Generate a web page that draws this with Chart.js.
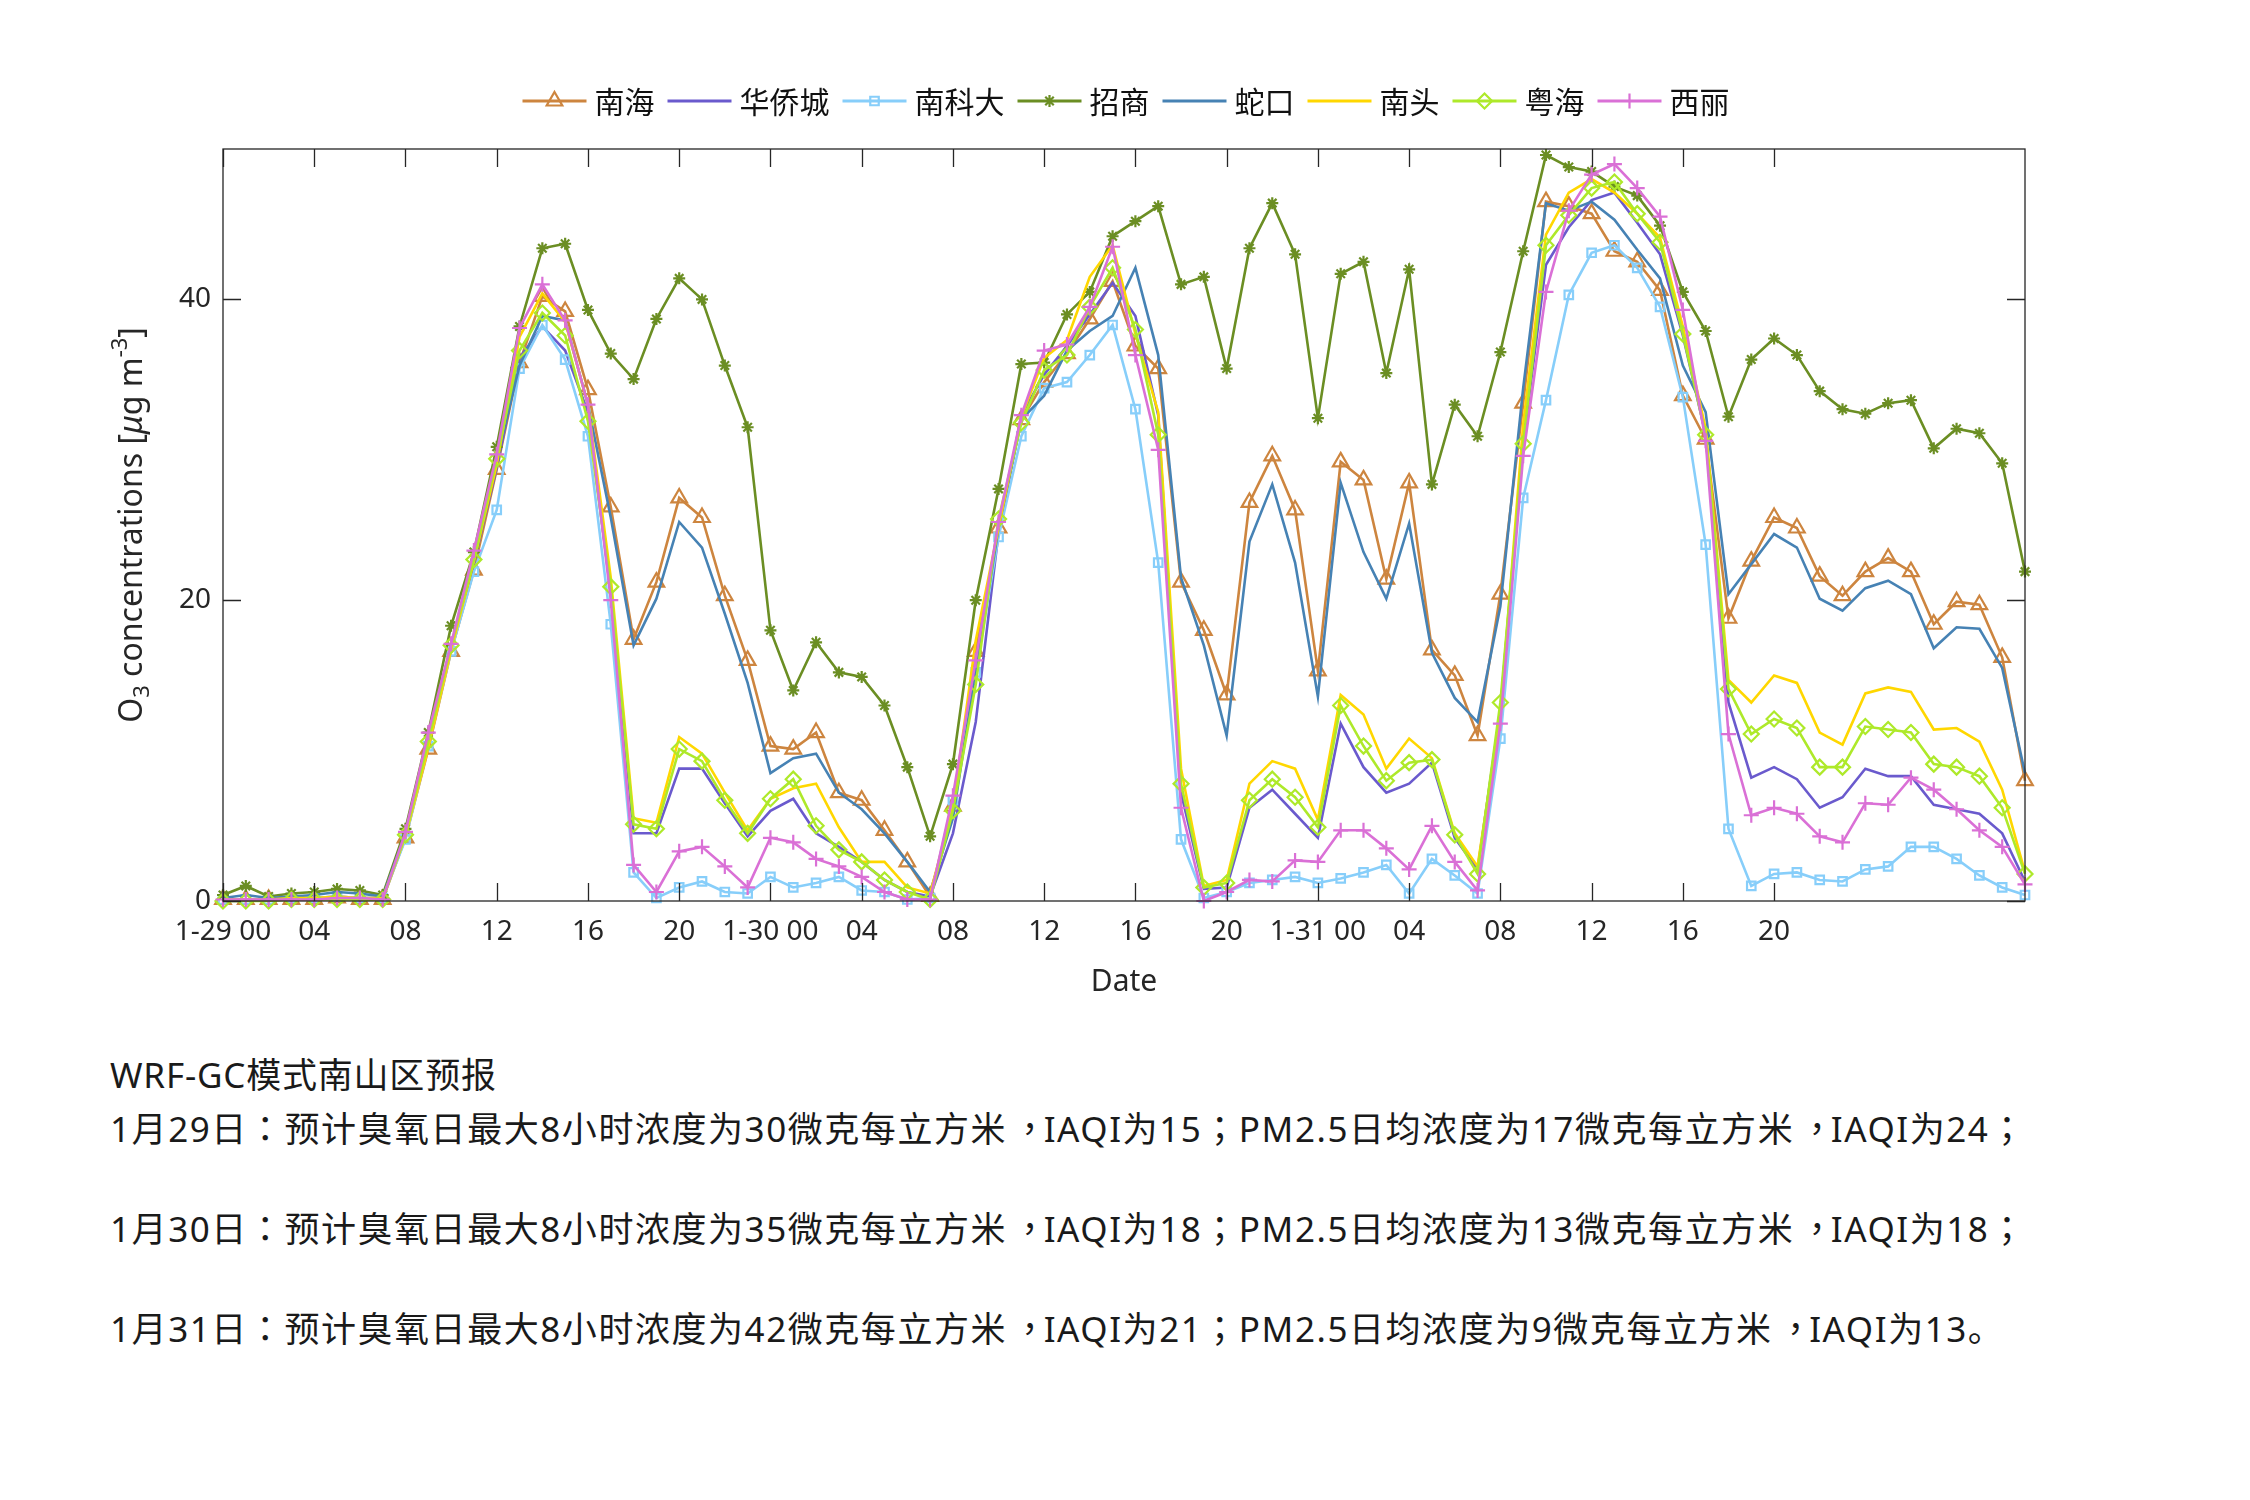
<!DOCTYPE html>
<html>
<head>
<meta charset="utf-8">
<script src="https://cdn.jsdelivr.net/npm/chart.js@4.4.1/dist/chart.umd.min.js"></script>
<style>
  html, body { margin: 0; padding: 0; background: #fff; }
  body { width: 2250px; height: 1500px; position: relative; overflow: hidden; }
  #wrap { position: absolute; left: 0; top: 0; width: 2250px; height: 1000px; }
  .note { position: absolute; left: 110px; font-family: "Noto Sans", "Noto Sans CJK SC", sans-serif;
          font-size: 35px; line-height: 1; color: #1a1a1a; white-space: nowrap; letter-spacing: 2px; }
  .note .p { font-family: "Noto Sans CJK TC", sans-serif; }
  .note .c { display: inline-block; transform: translateX(0.15em); }
</style>
</head>
<body>
<div id="wrap"><canvas id="c" width="2250" height="1000"></canvas></div>
<div class="note" id="n0" style="top:1057px;letter-spacing:0.8px">WRF-GC模式南山区预报</div>
<div class="note" id="n1" style="top:1109px">1月29日<span class="p">：</span>预计臭氧日最大8小时浓度为30微克每立方米<span class="p c">，</span>IAQI为15<span class="p">；</span>PM2.5日均浓度为17微克每立方米<span class="p c">，</span>IAQI为24<span class="p">；</span></div>
<div class="note" id="n2" style="top:1209px">1月30日<span class="p">：</span>预计臭氧日最大8小时浓度为35微克每立方米<span class="p c">，</span>IAQI为18<span class="p">；</span>PM2.5日均浓度为13微克每立方米<span class="p c">，</span>IAQI为18<span class="p">；</span></div>
<div class="note" id="n3" style="top:1309px">1月31日<span class="p">：</span>预计臭氧日最大8小时浓度为42微克每立方米<span class="p c">，</span>IAQI为21<span class="p">；</span>PM2.5日均浓度为9微克每立方米<span class="p c">，</span>IAQI为13。</div>
<script>
// hours since 1-29 00
const hours = [0,1,2,3,4,5,6,7,8,9,10,11,12,13,14,15,16,17,18,19,20,21,22,23,
  24,25,26,27,28,29,30,31,32,33,34,35,36,37,38,39,40,41,42,43,44,45,46,47,
  48,49,50,51,52,53,54,55,56,57,58,59,60,61,62,63,64,65,66,67,68,69,70,71,
  72,73,74,75,76,77,78,79];
const xTickValues = [0,4,8,12,16,20,24,28,32,36,40,44,48,52,56,60,64,68];
const xTickLabels = ['1-29 00','04','08','12','16','20','1-30 00','04','08','12','16','20',
  '1-31 00','04','08','12','16','20'];
const yTickValues = [0, 20, 40];

const stations = ['南海','华侨城','南科大','招商','蛇口','南头','粤海','西丽'];

const nanhai = [0.1,0.1,0.1,0.1,0.1,0.2,0.1,0.1, 4.2,10.1,16.6,22.0,28.7,35.8,40.2,39.2,
  34.0,26.2,17.4,21.2,26.8,25.5,20.3,16.0, 10.3,10.1,11.2,7.2,6.7,4.7,2.6,0.3,
  6.3,16.6,24.8,32.0,34.5,36.4,38.7,41.2, 36.9,35.4,21.2,18.0,13.7,26.5,29.6,26.0,
  15.3,29.2,28.0,21.4,27.8,16.7,15.0,11.0, 20.4,33.1,46.5,46.2,45.7,43.2,42.5,40.6,
  33.6,30.7,18.8,22.6,25.5,24.8,21.6,20.3, 21.9,22.8,21.9,18.4,19.9,19.7,16.2,8.0];
const huaqiaocheng = [0.1,0.1,0.1,0.2,0.2,0.3,0.2,0.2, 4.5,10.5,17.0,22.5,28.8,36.1,38.2,36.6,
  32.5,20.5,4.5,4.5,8.8,8.8,6.5,4.3, 6.0,6.8,4.5,3.6,2.6,1.4,0.6,0.3,
  4.5,11.9,24.5,32.3,35.0,36.9,39.0,41.1, 38.9,32.3,7.2,0.8,0.9,6.2,7.4,5.8,
  4.2,11.8,8.9,7.2,7.8,9.2,4.2,2.1, 12.7,30.5,42.3,44.8,46.6,47.1,45.1,43.0,
  37.6,31.0,13.2,8.2,8.9,8.1,6.2,6.9, 8.8,8.3,8.3,6.4,6.1,5.8,4.5,1.3];
const nankeda = [0.1,0.1,0.1,0.2,0.2,0.3,0.2,0.2, 4.1,10.3,16.6,21.9,26.0,35.4,38.3,36.0,
  30.9,18.4,1.9,0.2,0.9,1.3,0.6,0.5, 1.6,0.9,1.2,1.6,0.7,0.6,0.1,0.2,
  6.7,15.2,24.2,30.9,34.1,34.5,36.3,38.3, 32.7,22.5,4.1,0.2,0.6,1.2,1.4,1.6,
  1.2,1.5,1.9,2.4,0.5,2.8,1.7,0.5, 10.8,26.8,33.3,40.3,43.1,43.6,42.1,39.5,
  33.5,23.7,4.8,1.0,1.8,1.9,1.4,1.3, 2.1,2.3,3.6,3.6,2.8,1.7,0.9,0.4];
const zhaoshang = [0.4,1.0,0.3,0.5,0.6,0.8,0.7,0.4, 4.8,11.2,18.3,23.2,30.2,38.2,43.4,43.7,
  39.3,36.4,34.7,38.7,41.4,40.0,35.6,31.5, 18.0,14.0,17.2,15.2,14.9,13.0,8.9,4.3,
  9.1,20.0,27.4,35.7,35.8,39.0,40.5,44.2, 45.2,46.2,41.0,41.5,35.4,43.4,46.4,43.0,
  32.1,41.7,42.5,35.1,42.0,27.7,33.0,30.9, 36.5,43.2,49.6,48.8,48.5,47.5,46.9,44.9,
  40.5,37.9,32.2,36.0,37.4,36.3,33.9,32.7, 32.4,33.1,33.3,30.1,31.4,31.1,29.1,21.9];
const shekou = [0.2,0.4,0.2,0.3,0.4,0.6,0.5,0.3, 4.5,10.8,17.0,22.5,29.4,35.6,38.9,38.6,
  33.0,25.5,17.0,20.1,25.2,23.5,19.1,14.5, 8.5,9.5,9.8,7.2,6.1,4.5,2.6,0.6,
  5.5,15.3,24.8,32.0,33.6,36.6,37.9,38.9, 42.1,36.3,21.5,17.0,11.0,23.9,27.7,22.5,
  13.6,27.8,23.2,20.1,25.1,16.5,13.5,11.9, 19.6,34.1,46.4,45.9,46.5,45.3,43.3,41.4,
  35.6,32.5,20.4,22.4,24.4,23.5,20.1,19.3, 20.8,21.3,20.4,16.8,18.2,18.1,15.5,8.5];
const nantou = [0.1,0.1,0.1,0.2,0.2,0.3,0.2,0.2, 4.3,10.2,16.7,22.6,29.0,37.5,40.4,38.5,
  33.0,21.5,5.5,5.2,10.9,9.8,7.2,4.7, 6.8,7.5,7.8,4.9,2.6,2.6,0.9,0.5,
  6.2,17.3,24.8,32.2,36.1,37.3,41.5,43.6, 37.7,32.5,8.8,1.0,1.4,7.8,9.3,8.8,
  5.4,13.7,12.4,8.8,10.8,9.5,4.5,2.3, 12.4,31.7,44.3,47.1,48.0,47.1,45.7,44.1,
  38.2,31.4,14.7,13.2,15.0,14.5,11.2,10.4, 13.8,14.2,13.9,11.4,11.5,10.6,7.4,1.9];
const yuehai = [0.0,0.0,0.0,0.1,0.1,0.1,0.1,0.1, 4.4,10.6,17.0,22.7,29.4,36.6,39.1,37.6,
  31.9,20.9,5.1,4.8,10.1,9.3,6.7,4.5, 6.8,8.1,5.0,3.4,2.6,1.4,0.6,0.1,
  6.0,14.4,25.4,31.8,35.3,36.3,39.5,42.1, 38.0,31.0,7.8,0.9,1.2,6.7,8.1,6.9,
  4.9,13.0,10.3,8.0,9.2,9.4,4.4,1.8, 13.2,30.4,43.6,45.6,47.4,47.8,45.7,43.8,
  37.7,31.0,14.1,11.1,12.1,11.5,8.9,8.9, 11.6,11.4,11.2,9.1,8.9,8.3,6.2,1.8];
const xili = [0.1,0.1,0.1,0.1,0.1,0.2,0.2,0.1, 4.6,11.2,17.1,23.3,29.7,38.1,41.0,38.6,
  33.0,20.0,2.4,0.6,3.3,3.6,2.3,0.9, 4.2,3.9,2.8,2.3,1.6,0.6,0.1,0.1,
  7.0,16.0,25.2,32.3,36.6,37.0,39.5,43.5, 36.3,30.0,6.2,0.0,0.6,1.4,1.3,2.7,
  2.6,4.7,4.7,3.5,2.1,5.0,2.6,0.7, 11.8,29.6,40.5,45.9,48.3,49.0,47.4,45.5,
  39.3,30.6,11.1,5.7,6.2,5.8,4.3,3.9, 6.5,6.4,8.2,7.4,6.1,4.7,3.6,1.1];

const seriesValues = [nanhai, huaqiaocheng, nankeda, zhaoshang, shekou, nantou, yuehai, xili];
const colors = ['#cd853f','#6a5acd','#87cefa','#6b8e23','#4682b4','#ffd700','#aee92a','#da70d6'];
const markers = ['triangle', false, 'rect', 'star', false, false, 'rectRot', 'cross'];
const markerSize = [9, 0, 6, 6, 0, 0, 7.5, 7.5];

const AXIS = '#262626';
const FONT = '"Noto Sans", "DejaVu Sans", sans-serif';
const CJK = '"Noto Sans CJK SC", sans-serif';

// marker drawer for the legend
function marker(ctx, style, r, x, y) {
  ctx.beginPath();
  if (style === 'triangle') {
    for (let k = 0; k < 3; k++) {
      const a = k * 2 * Math.PI / 3;
      const px = x + Math.sin(a) * r, py = y - Math.cos(a) * r;
      k ? ctx.lineTo(px, py) : ctx.moveTo(px, py);
    }
    ctx.closePath();
  } else if (style === 'rect') {
    const s = r * Math.SQRT1_2;
    ctx.rect(x - s, y - s, 2 * s, 2 * s);
  } else if (style === 'rectRot') {
    ctx.moveTo(x, y - r); ctx.lineTo(x + r, y); ctx.lineTo(x, y + r); ctx.lineTo(x - r, y); ctx.closePath();
  } else if (style === 'cross' || style === 'star') {
    ctx.moveTo(x, y - r); ctx.lineTo(x, y + r); ctx.moveTo(x - r, y); ctx.lineTo(x + r, y);
    if (style === 'star') {
      const d = r * Math.SQRT1_2;
      ctx.moveTo(x - d, y - d); ctx.lineTo(x + d, y + d); ctx.moveTo(x - d, y + d); ctx.lineTo(x + d, y - d);
    }
  }
  ctx.stroke();
}

const frame = {
  id: 'frame',
  afterDraw(chart) {
    const { ctx, chartArea: a, scales: { x, y } } = chart;
    ctx.save();
    ctx.strokeStyle = AXIS;
    ctx.lineWidth = 1.3;
    ctx.strokeRect(a.left, a.top, a.right - a.left, a.bottom - a.top);
    ctx.beginPath();
    xTickValues.forEach(v => {
      const px = Math.round(x.getPixelForValue(v)) + 0.5;
      ctx.moveTo(px, a.bottom); ctx.lineTo(px, a.bottom - 18);
      ctx.moveTo(px, a.top); ctx.lineTo(px, a.top + 18);
    });
    yTickValues.forEach(v => {
      const py = Math.round(y.getPixelForValue(v)) + 0.5;
      ctx.moveTo(a.left, py); ctx.lineTo(a.left + 18, py);
      ctx.moveTo(a.right, py); ctx.lineTo(a.right - 18, py);
    });
    ctx.stroke();

    // x title
    ctx.fillStyle = AXIS;
    ctx.font = '30px ' + FONT;
    ctx.textAlign = 'center';
    ctx.textBaseline = 'middle';
    ctx.fillText('Date', (a.left + a.right) / 2, 982);

    // y title with sub/superscript
    const parts = [
      { t: 'O', f: '32px ' + FONT, dy: 0 },
      { t: '3', f: '22px ' + FONT, dy: 10 },
      { t: ' concentrations [', f: '32px ' + FONT, dy: 0 },
      { t: 'μ', f: 'italic 32px ' + FONT, dy: 0 },
      { t: 'g m', f: '32px ' + FONT, dy: 0 },
      { t: '-3', f: '22px ' + FONT, dy: -12 },
      { t: ']', f: '32px ' + FONT, dy: 0 }
    ];
    let total = 0;
    parts.forEach(p => { ctx.font = p.f; p.w = ctx.measureText(p.t).width; total += p.w; });
    ctx.translate(133, (a.top + a.bottom) / 2);
    ctx.rotate(-Math.PI / 2);
    ctx.textAlign = 'left';
    let cx = -total / 2;
    parts.forEach(p => { ctx.font = p.f; ctx.fillText(p.t, cx, p.dy); cx += p.w; });
    ctx.restore();

    // legend
    ctx.save();
    ctx.font = '30px ' + CJK;
    ctx.textBaseline = 'middle';
    ctx.textAlign = 'left';
    const lineLen = 64, gap = 8, itemGap = 13, ly = 101;
    const widths = stations.map(s => ctx.measureText(s).width);
    const full = widths.reduce((s, w) => s + lineLen + gap + w, 0) + itemGap * (stations.length - 1);
    let lx = 1126 - full / 2;
    stations.forEach((s, i) => {
      ctx.strokeStyle = colors[i];
      ctx.lineWidth = 3;
      ctx.beginPath(); ctx.moveTo(lx, ly); ctx.lineTo(lx + lineLen, ly); ctx.stroke();
      if (markers[i]) { ctx.lineWidth = 2.2; marker(ctx, markers[i], markerSize[i], lx + lineLen / 2, ly); }
      ctx.fillStyle = '#111';
      ctx.fillText(s, lx + lineLen + gap, ly + 1);
      lx += lineLen + gap + widths[i] + itemGap;
    });
    ctx.restore();
  }
};

new Chart(document.getElementById('c'), {
  type: 'line',
  data: {
    labels: hours,
    datasets: stations.map((s, i) => ({
      label: s,
      data: seriesValues[i],
      borderColor: colors[i],
      borderWidth: 2.6,
      tension: 0,
      pointStyle: markers[i] || 'circle',
      pointRadius: markerSize[i],
      pointBorderWidth: 2.2,
      pointBorderColor: colors[i],
      pointBackgroundColor: 'rgba(0,0,0,0)',
      clip: false,
      order: stations.length - i
    }))
  },
  options: {
    responsive: false,
    animation: false,
    devicePixelRatio: 1,
    layout: { padding: { top: 149, right: 225, left: 0, bottom: 0 } },
    plugins: { legend: { display: false }, tooltip: { enabled: false }, title: { display: false } },
    scales: {
      x: {
        type: 'linear', min: 0, max: 79,
        grid: { display: false, drawTicks: false }, border: { display: false },
        afterBuildTicks: sc => { sc.ticks = xTickValues.map(v => ({ value: v })); },
        afterFit: sc => { sc.height = 99; },
        ticks: {
          autoSkip: false, maxRotation: 0, padding: 14, color: AXIS,
          font: { family: FONT, size: 28 },
          callback: (v, i) => xTickLabels[i]
        }
      },
      y: {
        min: 0, max: 50,
        grid: { display: false, drawTicks: false }, border: { display: false },
        afterBuildTicks: sc => { sc.ticks = yTickValues.map(v => ({ value: v })); },
        afterFit: sc => { sc.width = 223; },
        ticks: { padding: 12, color: AXIS, font: { family: FONT, size: 28 } }
      }
    }
  },
  plugins: [frame]
});

// stretch the note lines so the first one ends where the reference block ends (x≈2026)
const first = document.getElementById('n1');
const n = first.textContent.length;
const w = first.getBoundingClientRect().width;
const ls = 2 + (2026 - 110 - w) / n;
['n1', 'n2', 'n3'].forEach(k => { document.getElementById(k).style.letterSpacing = ls + 'px'; });
</script>
</body>
</html>
